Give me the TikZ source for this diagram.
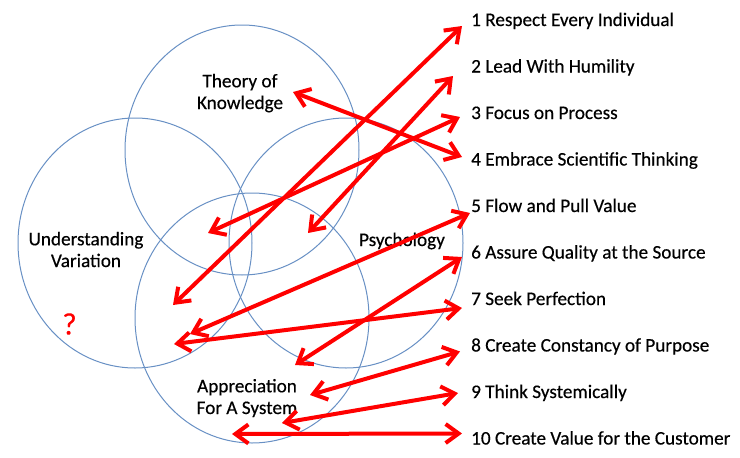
\documentclass[tikz,border=0pt]{standalone}
\usepackage{fontspec}
\setmainfont{Carlito}[FakeBold=0.4]
\usepackage{xcolor}
\usetikzlibrary{arrows.meta}
\definecolor{ring}{HTML}{6890C4}
\definecolor{arrowRed}{HTML}{FF0000}
\tikzset{
  vennCircle/.style={draw=ring, line width=1pt},
  vennLabel/.style={font=\fontsize{19.2}{21.7}\selectfont, align=center, anchor=base, inner sep=0pt},
  itemText/.style={font=\fontsize{19.2}{22}\selectfont, anchor=base west, inner sep=0pt},
  linkArrow/.style={draw=arrowRed, line width=4pt,
    {Straight Barb[length=13pt,width=19pt]}-{Straight Barb[length=13pt,width=19pt]}}
}

\begin{document}
\begin{tikzpicture}[x=1pt, y=-1pt]
  \useasboundingbox (0,0) rectangle (740,458);

  \coordinate (T) at (242,150);
  \coordinate (U) at (135,243);
  \coordinate (P) at (346,243);
  \coordinate (S) at (252,318);
  \foreach \c in {T,U,P,S}
    \draw[vennCircle] (\c) ellipse [x radius=117pt, y radius=125pt];

  \node[vennLabel] (theory) at (240,109) {Theory of\\Knowledge};
  \node[vennLabel] (variation) at (86,267) {Understanding\\Variation};
  \node[vennLabel] (psychology) at (402,246) {Psychology};
  \node[vennLabel] (system) at (247,414) {Appreciation\\For A System};
  \node[font=\fontsize{31}{31}\selectfont, text=arrowRed] (unknown) at (69.5,324) {?};

  % the ten principles
  \foreach \i/\txt in {1/Respect Every Individual, 2/Lead With Humility,
      3/Focus on Process, 4/Embrace Scientific Thinking, 5/Flow and Pull Value,
      6/Assure Quality at the Source, 7/Seek Perfection,
      8/Create Constancy of Purpose, 9/Think Systemically,
      10/Create Value for the Customer}
    \node[itemText] (p\i) at (471,{26+46.5*(\i-1)}) {\i\ \txt};

  % links into the circles
  \foreach \i/\x/\y/\dx/\dy in {1/173/305/-9/0, 2/308/233/-18/3.5, 3/208/233/-11/-2,
      4/293/92/-9/-8.5, 5/190/334/-1/1, 6/295/365/-9/-1.5, 7/174/344/-9/3,
      8/310/395/-11/0, 9/282/423/-13/-5, 10/232/434/-9/-11}
  {
    \coordinate (a\i) at (\x,\y);
    \draw[linkArrow] (a\i) -- ([shift={(\dx,\dy)}]p\i.base west);
  }
\end{tikzpicture}
\end{document}
